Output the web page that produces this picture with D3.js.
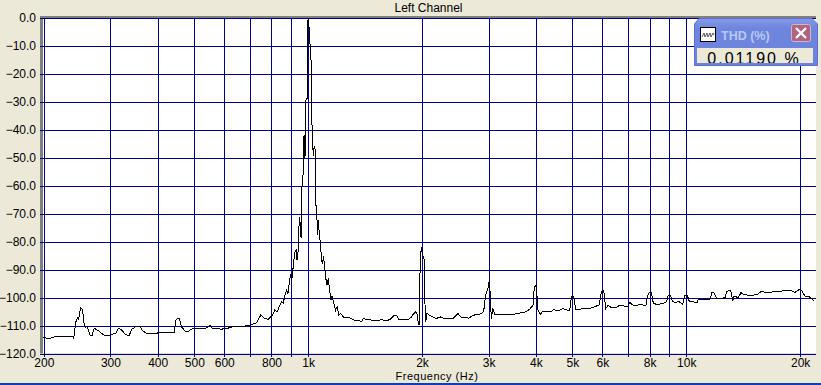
<!DOCTYPE html>
<html>
<head>
<meta charset="utf-8">
<script src="https://cdnjs.cloudflare.com/ajax/libs/d3/7.8.5/d3.min.js"></script>
<style>
  html, body { margin: 0; padding: 0; background: #ece9d8; overflow: hidden; }
  svg { display: block; }
  text { font-family: "Liberation Sans", Arial, sans-serif; fill: #000; }
  .grid line { stroke: #000088; stroke-width: 1; shape-rendering: crispEdges; }
  .grid path { display: none; }
</style>
</head>
<body>
<div id="chart"></div>
<script>
// Spectrum
const freqHz = [
  199, 207, 214, 225, 239, 240, 243, 246, 247, 250, 253, 256, 258, 260, 265, 268, 272, 278, 289, 299,
  311, 315, 322, 327, 336, 342, 352, 359, 365, 376, 397, 401, 443, 446, 451, 456, 463, 475, 482, 495,
  528, 541, 550, 558, 590, 621, 631, 660, 702, 731, 749, 769, 784,
  805, 816, 828, 842, 852, 859, 868, 877, 884, 895, 898, 906, 913, 922, 930, 935, 941, 945, 949, 955, 958, 964,
  970, 972, 976, 980, 986, 987, 994, 995, 1000, 1006, 1010, 1015, 1018, 1023, 1027, 1031, 1037, 1043, 1045, 1047,
  1050, 1056, 1059, 1065, 1069, 1078, 1085, 1092, 1098, 1105, 1114, 1121, 1130, 1141, 1150, 1157, 1170, 1182, 1193, 1206, 1218,
  1243, 1289, 1329, 1356, 1385, 1398, 1442, 1486, 1532, 1564, 1612, 1652, 1685, 1714, 1741, 1840, 1877, 1896, 1923, 1942, 1958, 1965,
  1975, 1990, 2007, 2025, 2040, 2047, 2062, 2095, 2146, 2182, 2236, 2296, 2416, 2490, 2542, 2594, 2662, 2729, 2842, 2911,
  2947, 2989, 3008, 3020, 3032, 3051, 3081, 3119, 3157, 3482, 3776, 3869, 3933, 3964, 4012, 4054, 4112, 4163, 4397, 4460,
  4579, 4721, 4837, 4917, 4967, 5037, 5099, 5172, 5332, 5555, 5761, 5878, 5963, 6049, 6122, 6222, 6338, 6534, 6668,
  6883, 6982, 7095, 7270, 7464, 7822, 7885, 7983, 8081, 8179, 8347, 8693, 8871, 8962, 9091, 9183, 9391, 9524, 9779, 9919,
  10060, 10184, 10693, 10758, 11551, 11692, 11836, 12030, 12351, 12657, 12785, 12994, 13098, 13266, 13371, 13731, 13955, 14156,
  14737, 15350, 15824, 16314, 17338, 18427, 18805, 19385, 19905, 20191, 20605, 21032, 21248, 21768
];
const levelDb = [
  -114.3, -114.6, -114, -113.8, -114, -114.6, -108.7, -107, -108, -103.7, -104.2, -110, -110.5, -110.2, -113.5, -113.7, -111, -111.7, -113.5, -113.5,
  -112.6, -111, -111.7, -112.9, -113.7, -111.3, -110.2, -110.2, -111.9, -113, -112.9, -112.5, -112.5, -108.1, -107.5, -107.5, -110.5, -112.3, -112.1, -111,
  -111, -110.8, -110, -111, -111.3, -110.8, -110.5, -110.5, -109.9, -109, -106.3, -107.5, -107.8,
  -106.3, -104.5, -105.1, -102.7, -101.5, -102.1, -99.2, -97.4, -98.6, -93.2, -92, -93.2, -89, -83.7, -83.1, -86.7, -83.1, -75.4, -71.2, -75.4, -78.6, -58.1,
  -55.7, -43, -41.8, -49.5, -49, -29.3, -28.7, -3.1, -0.5, -3.7, -7.3, -14.4, -15, -38.2, -38.8, -49.5, -46, -47, -50.5, -56.9,
  -71.2, -72.4, -77.7, -72.1, -76.5, -80.7, -86.7, -87.9, -85.1, -88.5, -93.2, -95.6, -93.2, -98, -101, -99.5, -102.1, -104.5, -103.3, -106.3, -105.7,
  -107.1, -107.3, -108.1, -108.1, -108.7, -107.5, -107.9, -108.1, -108.1, -107.9, -108.3, -107.7, -106.4, -106.4, -107.9, -107.9, -106.9, -106, -105.1, -106, -109.5, -109.9,
  -92, -82.1, -84.9, -86.1, -106, -108.7, -105.7, -106.3, -107.1, -107.5, -106.9, -107.6, -107.5, -105.7, -107.1, -107.1, -107.4, -106.3, -106, -105.1,
  -99.2, -96.8, -94.4, -93.8, -100.4, -107.5, -103.9, -106.3, -106, -106, -105.1, -103.9, -102.7, -96.2, -95.6, -104.5, -106, -105.1, -105.1, -104.3,
  -104.8, -103.9, -104.5, -104.5, -99.8, -99.5, -104.3, -104.3, -103.9, -103.9, -103.1, -102.7, -98, -97.6, -103.9, -102.7, -103.7, -103.6, -102.7,
  -103.1, -103.3, -101.8, -103, -102.6, -102.7, -99.8, -98.2, -98.2, -101.9, -102.5, -102.1, -101.5, -99.2, -99.2, -101.2, -101.9, -101.3, -102.4, -99.2,
  -99.2, -101.3, -101.8, -100.7, -100.7, -98.2, -98.2, -100.4, -100.4, -100, -98, -97.4, -97.4, -101.2, -99.5, -100, -98.2, -98.9,
  -99.2, -99, -97.7, -98.3, -97.7, -97.6, -97.4, -98.1, -97.1, -97.4, -99.5, -99.5, -100, -101.2
];

// Axis ticks
const freqTicks = [200, 300, 400, 500, 600, 700, 800, 900, 1000, 2000, 3000, 4000, 5000, 6000, 7000, 8000, 9000, 10000, 20000];
const freqLabels = ["200", "300", "400", "500", "600", "", "800", "", "1k", "2k", "3k", "4k", "5k", "6k", "", "8k", "", "10k", "20k"];
const dbTicks = [0, -10, -20, -30, -40, -50, -60, -70, -80, -90, -100, -110, -120];

// Readout panel text
const thdTitle = "THD (%)";
const thdValue = "0.01190 %";

const width = 821;
const height = 385;
const margin = {top: 18, right: 5, bottom: 32, left: 43};

const svg = d3.select("#chart").append("svg")
  .attr("width", width)
  .attr("height", height);

const x = d3.scaleLog().domain([199, 22030]).range([margin.left, width - margin.right]);
const y = d3.scaleLinear().domain([0, -120]).range([margin.top, height - margin.bottom + 0.5]);

// Plot background and the grey sunken edge
svg.append("rect")
  .attr("x", margin.left - 3).attr("y", margin.top - 2)
  .attr("width", width - margin.right - margin.left + 3)
  .attr("height", y(-120) - margin.top + 2)
  .attr("fill", "#808080");
svg.append("rect")
  .attr("x", margin.left).attr("y", margin.top)
  .attr("width", width - margin.right - margin.left)
  .attr("height", y(-120) - margin.top)
  .attr("fill", "#fff");

// Grid comes from the axes themselves
const xAxis = d3.axisBottom(x)
  .tickValues(freqTicks)
  .tickSize(y(-120) - margin.top + 3)
  .tickPadding(2)
  .tickFormat((d, i) => freqLabels[i]);
svg.append("g")
  .attr("class", "grid")
  .attr("transform", `translate(0,${margin.top})`)
  .call(xAxis)
  .call(g => g.selectAll("text").attr("font-size", 12).attr("font-family", null));

const yAxis = d3.axisLeft(y)
  .tickValues(dbTicks)
  .tickSize(width - margin.right - margin.left + 3)
  .tickPadding(4)
  .tickFormat(d3.format(".1f"));
svg.append("g")
  .attr("class", "grid")
  .attr("transform", `translate(${width - margin.right},0)`)
  .call(yAxis)
  .call(g => g.selectAll("text").attr("font-size", 12).attr("font-family", null));

// The spectrum trace
const line = d3.line()
  .x((d, i) => x(freqHz[i]))
  .y(d => y(d));

svg.append("path")
  .datum(levelDb)
  .attr("fill", "none")
  .attr("stroke", "#000")
  .attr("stroke-width", 1)
  .attr("shape-rendering", "crispEdges")
  .attr("d", line);

// Titles
svg.append("text")
  .attr("x", 428.5).attr("y", 12)
  .attr("text-anchor", "middle")
  .attr("font-size", 12)
  .text("Left Channel");
svg.append("text")
  .attr("x", 437).attr("y", 380)
  .attr("text-anchor", "middle")
  .attr("font-size", 11)
  .attr("letter-spacing", 0.5)
  .text("Frequency (Hz)");

// Window border along the bottom
svg.append("rect")
  .attr("x", 0).attr("y", 383)
  .attr("width", width).attr("height", 2)
  .attr("fill", "#0a3fc4");

// Floating THD panel
const panel = svg.append("g").attr("transform", "translate(694,18)");
const grad = svg.append("defs").append("linearGradient")
  .attr("id", "panelFill")
  .attr("x1", 0).attr("x2", 0).attr("y1", 0).attr("y2", 1);
grad.append("stop").attr("offset", 0).attr("stop-color", "#869ae8");
grad.append("stop").attr("offset", 0.2).attr("stop-color", "#6f86de");
grad.append("stop").attr("offset", 1).attr("stop-color", "#6c82dc");

panel.append("path")
  .attr("d", "M0.5,47.5V6L5,0.5H118L123.5,6V47.5Z")
  .attr("fill", "url(#panelFill)")
  .attr("stroke", "#5a70d2");

panel.append("rect")
  .attr("x", 6.5).attr("y", 9.5)
  .attr("width", 15).attr("height", 14)
  .attr("fill", "#fff").attr("stroke", "#000");
panel.append("path")
  .attr("d", "M8,19L10,15L11,19L13,15L14,19L16,15L17,19L19,15L20,17")
  .attr("fill", "none").attr("stroke", "#333").attr("stroke-width", 0.8);
panel.append("text")
  .attr("x", 27).attr("y", 22)
  .attr("font-size", 12.5)
  .attr("font-weight", "bold")
  .style("fill", "#bac7f3")
  .text(thdTitle);

panel.append("rect")
  .attr("x", 97.5).attr("y", 6.5)
  .attr("width", 19).attr("height", 17).attr("rx", 2)
  .attr("fill", "#b5627f").attr("stroke", "#c9b8d4");
panel.append("path")
  .attr("d", "M102,10L112,20M112,10L102,20")
  .attr("stroke", "#fff").attr("stroke-width", 2.4);

svg.select("defs").append("clipPath")
  .attr("id", "readoutClip")
  .append("rect")
  .attr("x", 3).attr("y", 30)
  .attr("width", 116).attr("height", 15);
panel.append("rect")
  .attr("x", 3).attr("y", 30)
  .attr("width", 116).attr("height", 15)
  .attr("fill", "#ece9d8");
panel.append("text")
  .attr("clip-path", "url(#readoutClip)")
  .attr("x", 60).attr("y", 45.5)
  .attr("text-anchor", "middle")
  .attr("font-size", 16)
  .attr("letter-spacing", 2)
  .text(thdValue);
</script>
</body>
</html>
